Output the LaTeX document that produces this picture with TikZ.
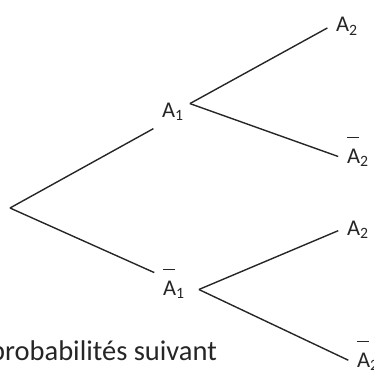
\documentclass[tikz,border=0pt]{standalone}
\usepackage{fontspec}
\setmainfont{Carlito}
\usepackage{xcolor}
\usepackage{tikz}
\definecolor{inkgray}{RGB}{38,38,40}
\newcommand{\barA}{\rlap{\raisebox{25pt}{\rule{12pt}{1.4pt}}}A}

\begin{document}
\begin{tikzpicture}[
  x=1pt, y=-1pt,
  lbl/.style={anchor=base west,inner sep=6pt,text height=15pt,text depth=4pt,text=inkgray,font=\fontsize{22.5}{26}\selectfont},
  br/.style={draw=inkgray,line width=1.4pt,shorten >=3pt},
]
  \useasboundingbox (0,0) rectangle (374,369);
  \clip (0,0) rectangle (374,369);

  \coordinate (root) at (10,208);
  \node[lbl] (a1) at (156,117) {A\textsubscript{1}};
  \node[lbl] (a1b) at (157,295) {\barA\textsubscript{1}};
  \node[lbl] (a2u) at (330,32) {A\textsubscript{2}};
  \node[lbl] (a2ub) at (341,163) {\barA\textsubscript{2}};
  \node[lbl] (a2l) at (341,235) {A\textsubscript{2}};
  \node[lbl] (a2lb) at (351,367) {\barA\textsubscript{2}};
  \node[anchor=base west,inner sep=0pt,text=inkgray,font=\fontsize{28.5}{33}\selectfont] (txt) at (-10,360) {probabilités suivant};

  \draw[br] (root) -- (a1.south west);
  \draw[br] (root) -- (a1b.north west);
  \draw[br] (a1.25) -- (a2u.west);
  \draw[br] (a1.25) -- (a2ub.west);
  \draw[br] ([xshift=8pt]a1b.east) -- (a2l.west);
  \draw[br] ([xshift=8pt]a1b.east) -- (a2lb.west);
\end{tikzpicture}
\end{document}
